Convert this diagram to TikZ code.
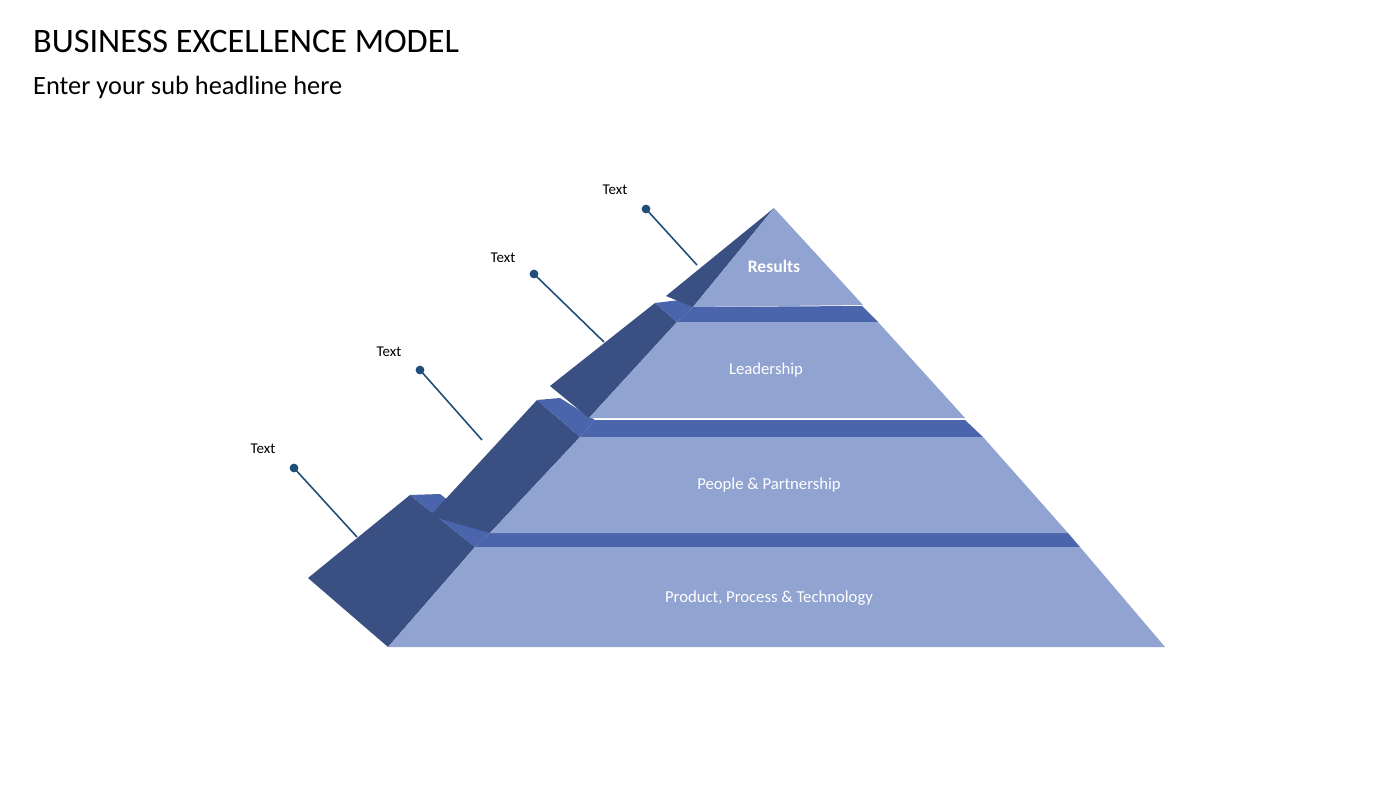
\documentclass[tikz,border=0pt]{standalone}
\usepackage{fontspec}
\setmainfont{Carlito}
\definecolor{front}{HTML}{91A3D1}
\definecolor{side}{HTML}{3A4F82}
\definecolor{strip}{HTML}{4A65AB}
\definecolor{dotc}{HTML}{1F4E79}
\begin{document}
\begin{tikzpicture}[x=0.02cm,y=-0.02cm,
  lab/.style={text=white,font=\fontsize{9.5}{11}\selectfont},
  call/.style={font=\fontsize{8.5}{10}\selectfont},
  lead/.style={draw=dotc,line width=0.9pt},
  dotm/.style={circle,fill=dotc,inner sep=0pt,minimum size=5pt}]
\useasboundingbox (0,0) rectangle (1400,788);
\fill[white] (0,0) rectangle (1400,788);
\node[anchor=west,font=\fontsize{19.5}{22}\selectfont] (title) at (27,42) {BUSINESS EXCELLENCE MODEL};
\node[anchor=west,font=\fontsize{15}{18}\selectfont] (sub) at (27,87) {Enter your sub headline here};
% tier 1
\fill[side] (308,578)--(388,647)--(475,547)--(410,495)--cycle;
\fill[strip] (410,495)--(440,494)--(490,533)--(475,547)--cycle;
\fill[strip] (475,547)--(1080,547)--(1068,533)--(490,533)--cycle;
\fill[front] (388,647)--(1165,647)--(1080,547)--(475,547)--cycle;
% tier 2
\fill[side] (430,516)--(490,533)--(580,437)--(537,400)--cycle;
\fill[strip] (537,400)--(560,398)--(595,420)--(580,437)--cycle;
\fill[strip] (580,437)--(983,437)--(965,420)--(595,420)--cycle;
\fill[front] (490,533)--(1068,533)--(983,437)--(580,437)--cycle;
% tier 3
\fill[side] (550,386)--(589,418)--(677,322)--(655,303)--cycle;
\fill[strip] (655,303)--(680,300)--(693,307)--(677,322)--cycle;
\fill[strip] (677,322)--(878,322)--(862,306)--(693,307)--cycle;
\fill[front] (589,418)--(965,418)--(878,322)--(677,322)--cycle;
% tier 4
\fill[side] (666,296)--(693,307)--(774,208)--cycle;
\fill[front] (693,307)--(863,305)--(774,208)--cycle;
% labels
\node[lab,font=\bfseries\fontsize{10}{12}\selectfont] (l4) at (774,266) {Results};
\node[lab] (l3) at (766,370) {Leadership};
\node[lab] (l2) at (769,485) {People \& Partnership};
\node[lab] (l1) at (769,598) {Product, Process \& Technology};
% callouts
\foreach \i/\dx/\dy/\ex/\ey/\tx/\ty in {a/646/209/697/265/615/190, b/534/274/604/342/503/258, c/420/370/482/440/389/352, d/294/468/357/537/263/449}{
  \node[dotm] (d\i) at (\dx,\dy) {};
  \coordinate (e\i) at (\ex,\ey);
  \draw[lead] (d\i.center)--(e\i);
  \node[call] (t\i) at (\tx,\ty) {Text};
}
\end{tikzpicture}
\end{document}
